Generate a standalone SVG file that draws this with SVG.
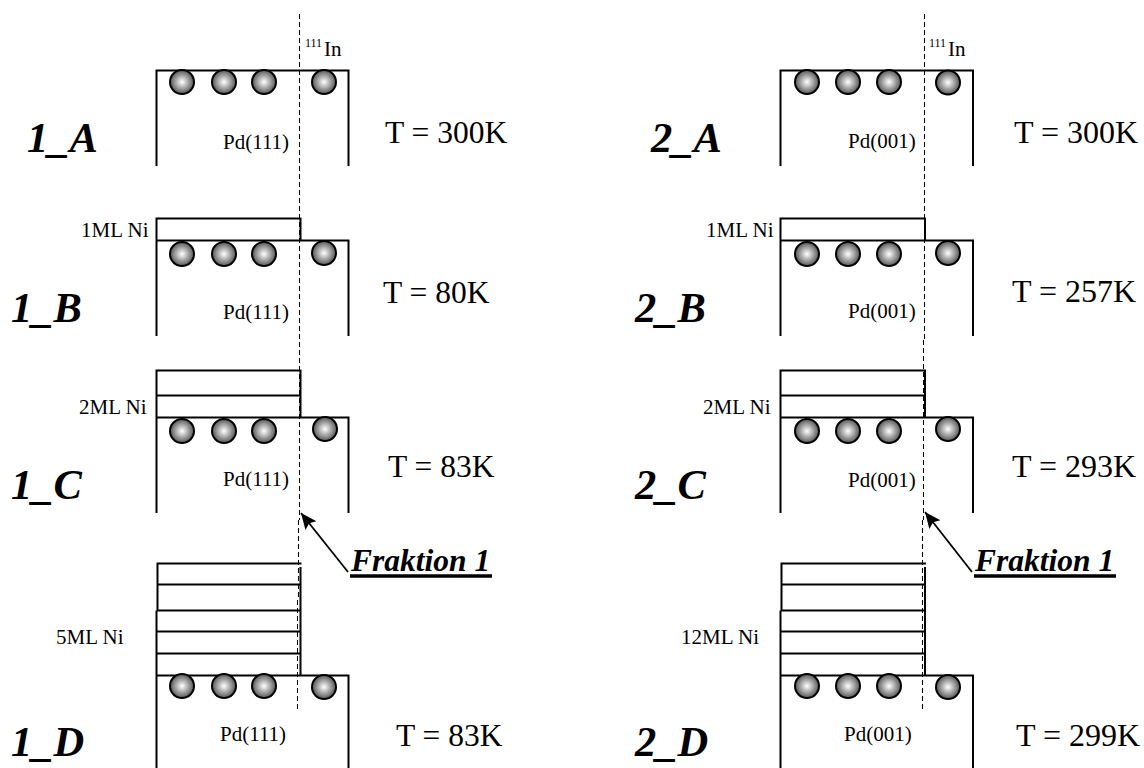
<svg xmlns="http://www.w3.org/2000/svg" width="1144" height="768" viewBox="0 0 1144 768">
<style>
.l{fill:none;stroke:#000;stroke-width:2}
.t{fill:none;stroke:#000;stroke-width:1.8}
.d{fill:none;stroke:#000;stroke-width:1;stroke-dasharray:5 3}
.b{fill:url(#g);stroke:#000;stroke-width:2}
text{font-family:"Liberation Serif",serif;fill:#000}
.s{font-size:21px}
.m{font-size:32px}
.k{font-size:31.500px}
.n{font-size:42.500px;font-weight:bold;font-style:italic}
.f{font-size:31.500px;font-weight:bold;font-style:italic}
.u{font-size:12px}
.i{font-size:21px}
</style>
<defs>
<radialGradient id="g"><stop offset="0" stop-color="#fff"/><stop offset="1" stop-color="#555"/></radialGradient>
<marker id="a" markerUnits="userSpaceOnUse" markerWidth="18" markerHeight="16" refX="16" refY="8" orient="auto"><path d="M0 1L16 8L0 15L3 8Z" fill="#000"/></marker>
</defs>
<g id="connectors">
<path class="d" d="M299.500 14V520M298.500 520V600M297.500 600V709"/>
<path class="d" d="M924.500 14V340M923.500 340V520M922.500 520V709"/>
<path class="t" d="M348 572L301 513" marker-end="url(#a)"/>
<path class="t" d="M972 572L925 512" marker-end="url(#a)"/>
</g>
<g id="node-1A">
<path class="l" d="M156.500 166V70.500H348.500V166"/>
<circle class="b" cx="182" cy="82" r="12"/><circle class="b" cx="224" cy="82" r="12"/><circle class="b" cx="264" cy="82" r="12"/><circle class="b" cx="324" cy="82" r="12"/>
<text class="u" x="305" y="47">111</text><text class="i" x="324" y="56">In</text>
<text class="s" x="223" y="149">Pd(111)</text>
<text class="k" x="385" y="143">T = 300K</text>
<text class="n" x="27" y="152">1_A</text>
</g>
<g id="node-1B">
<path class="l" d="M156.500 336V240.500H348.500V336M156.500 240.500V218.500H300.500V240.500"/>
<circle class="b" cx="182" cy="254" r="12"/><circle class="b" cx="224" cy="254" r="12"/><circle class="b" cx="264" cy="254" r="12"/><circle class="b" cx="324" cy="253" r="12"/>
<text class="s" x="81" y="237">1ML Ni</text>
<text class="s" x="223" y="319">Pd(111)</text>
<text class="k" x="383" y="303">T = 80K</text>
<text class="n" x="11" y="322">1_B</text>
</g>
<g id="node-1C">
<path class="l" d="M156.500 513V417.500H348.500V513M156.500 417.500V370.500H300.500V417.500M156.500 395.500H300.500"/>
<circle class="b" cx="182" cy="431" r="12"/><circle class="b" cx="224" cy="431" r="12"/><circle class="b" cx="264" cy="431" r="12"/><circle class="b" cx="325" cy="429" r="12"/>
<text class="s" x="79" y="414">2ML Ni</text>
<text class="s" x="223" y="486">Pd(111)</text>
<text class="k" x="388" y="477">T = 83K</text>
<text class="n" x="11" y="499">1_C</text>
</g>
<g id="node-1D">
<path class="l" d="M156.500 768V675.500H348.500V768M156.500 675.500V610.500M157.500 610.500V563.500H301.500M300.500 567V675.500M157 584.500H300.500M156.500 610.500H300.500M156.500 631.500H300.500M156.500 653.500H300.500"/>
<circle class="b" cx="182" cy="686" r="12"/><circle class="b" cx="224" cy="686" r="12"/><circle class="b" cx="264" cy="686" r="12"/><circle class="b" cx="324" cy="687" r="12"/>
<text class="s" x="56" y="644">5ML Ni</text>
<text class="s" x="220" y="741">Pd(111)</text>
<text class="k" x="396" y="746">T = 83K</text>
<text class="n" x="11" y="756">1_D</text>
</g>
<g id="label-1"><text class="f" x="351" y="571">Fraktion 1</text><path d="M350 576H492" stroke="#000" stroke-width="3.500"/></g>
<g id="node-2A">
<path class="l" d="M780.500 166V70.500H973V166"/>
<circle class="b" cx="807" cy="82" r="12"/><circle class="b" cx="848" cy="82" r="12"/><circle class="b" cx="889" cy="82" r="12"/><circle class="b" cx="948" cy="82.500" r="12"/>
<text class="u" x="929" y="47">111</text><text class="i" x="948" y="56">In</text>
<text class="s" x="848" y="148">Pd(001)</text>
<text class="m" x="1014" y="143">T = 300K</text>
<text class="n" x="651" y="152">2_A</text>
</g>
<g id="node-2B">
<path class="l" d="M780.500 336V240.500H973V336M780.500 240.500V218.500H925V240.500"/>
<circle class="b" cx="807" cy="254" r="12"/><circle class="b" cx="848" cy="254" r="12"/><circle class="b" cx="889" cy="254" r="12"/><circle class="b" cx="948" cy="253" r="12"/>
<text class="s" x="706" y="237">1ML Ni</text>
<text class="s" x="848" y="318">Pd(001)</text>
<text class="m" x="1012" y="302">T = 257K</text>
<text class="n" x="635" y="322">2_B</text>
</g>
<g id="node-2C">
<path class="l" d="M780.500 513V417.500H973V513M780.500 417.500V370.500H925V417.500M780.500 395.500H925"/>
<circle class="b" cx="807" cy="431" r="12"/><circle class="b" cx="848" cy="431" r="12"/><circle class="b" cx="889" cy="431" r="12"/><circle class="b" cx="948" cy="429" r="12"/>
<text class="s" x="703" y="414">2ML Ni</text>
<text class="s" x="848" y="487">Pd(001)</text>
<text class="m" x="1012" y="477">T = 293K</text>
<text class="n" x="635" y="499">2_C</text>
</g>
<g id="node-2D">
<path class="l" d="M780.500 768V675.500H973V768M780.500 675.500V610.500M781.500 610.500V563.500H926M925 567V675.500M781 584.500H925M780.500 610.500H925M780.500 631.500H925M780.500 653.500H925"/>
<circle class="b" cx="807" cy="686" r="12"/><circle class="b" cx="848" cy="686" r="12"/><circle class="b" cx="889" cy="686" r="12"/><circle class="b" cx="948" cy="687" r="12"/>
<text class="s" x="681" y="644">12ML Ni</text>
<text class="s" x="844" y="741">Pd(001)</text>
<text class="m" x="1016" y="746">T = 299K</text>
<text class="n" x="635" y="756">2_D</text>
</g>
<g id="label-2"><text class="f" x="975" y="571">Fraktion 1</text><path d="M974 576H1116" stroke="#000" stroke-width="3.500"/></g>
</svg>
